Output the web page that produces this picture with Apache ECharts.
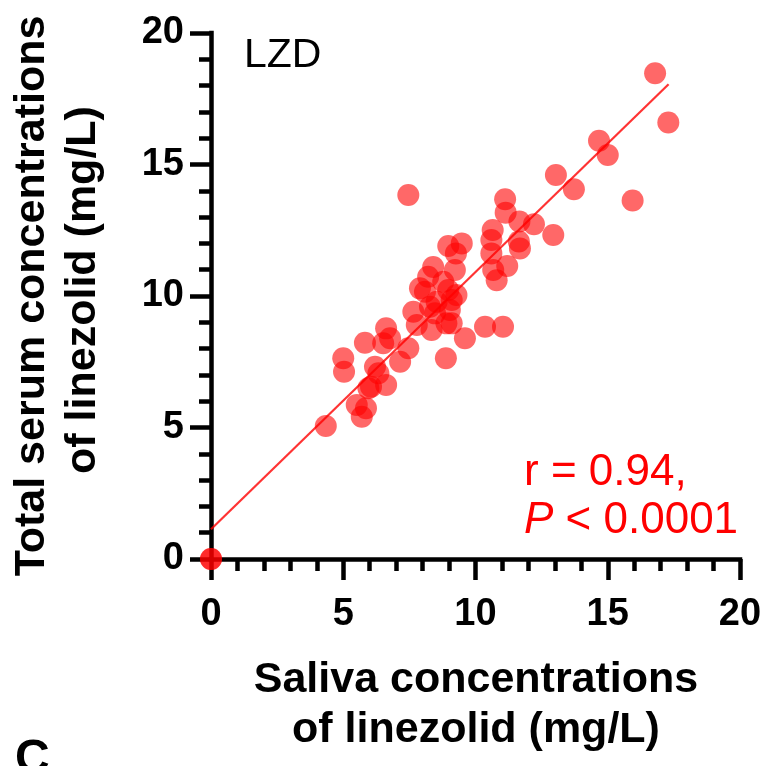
<!DOCTYPE html>
<html>
<head>
<meta charset="utf-8">
<script src="https://cdn.jsdelivr.net/npm/echarts@6/dist/echarts.min.js"></script>
<style>
html,body{margin:0;padding:0;background:#fff;}
#chart{width:769px;height:766px;}
</style>
</head>
<body>
<div id="chart"></div>
<script>
// Saliva concentrations (x) and total serum concentrations (y) of linezolid, mg/L
const saliva = [0,0,4.34,5.0,5.03,5.51,5.7,5.86,5.82,5.95,6.05,6.2,6.33,6.62,6.51,6.62,6.77,7.15,7.46,7.46,7.65,7.78,7.9,8.09,8.21,8.4,8.28,8.47,8.53,8.34,8.78,8.88,8.9,8.97,8.97,9.03,9.1,9.1,9.22,9.26,9.28,9.48,9.6,10.36,10.6,10.6,10.65,10.67,10.8,11.04,11.12,11.14,11.2,11.64,11.66,11.68,12.21,12.94,13.04,13.72,14.67,15.0,15.94,16.79,17.29];
const serum  = [0,0,5.06,7.63,7.12,5.86,5.41,5.73,8.22,6.49,6.55,7.31,7.06,6.62,8.2,8.77,8.39,7.5,8.01,13.84,9.4,8.9,10.29,10.16,10.73,11.1,9.59,9.34,9.78,8.71,10.54,7.63,8.96,11.9,10.23,9.47,9.85,8.96,10.99,11.62,10.04,12.0,8.39,8.83,11.62,12.13,12.51,10.99,10.6,8.83,13.68,13.17,11.14,12.07,12.83,11.81,12.73,12.32,14.6,14.06,15.9,15.36,13.63,18.47,16.6];
// Regression line end points
const fitX = [0, 17.3];
const fitY = [1.13, 18.05];
// Axis ticks
const axisMin = 0, axisMax = 20, axisStep = 5;

const points = saliva.map((x, i) => [x, serum[i]]);
const fitLine = fitX.map((x, i) => [x, fitY[i]]);

const FONT = '"Liberation Sans", Arial, sans-serif';
const chart = echarts.init(document.getElementById('chart'));

const axisCommon = {
  type: 'value', min: axisMin, max: axisMax, interval: axisStep,
  splitLine: {show: false},
  axisLine: {show: true, onZero: false, lineStyle: {color: '#000', width: 4.5, cap: 'square'}},
  axisTick: {show: true, length: 21, lineStyle: {color: '#000', width: 4.5}},
  minorTick: {show: true, splitNumber: 5, length: 12, lineStyle: {color: '#000', width: 4.5}},
  axisLabel: {color: '#000', fontFamily: FONT, fontWeight: 'bold', fontSize: 38}
};

chart.setOption({
  animation: false,
  backgroundColor: '#fff',
  grid: {left: 211, right: 29, top: 33, bottom: 207, containLabel: false},
  xAxis: Object.assign({}, axisCommon, {axisLabel: Object.assign({}, axisCommon.axisLabel, {margin: 37})}),
  yAxis: Object.assign({}, axisCommon, {axisLabel: Object.assign({}, axisCommon.axisLabel, {margin: 27})}),
  series: [
    {
      type: 'line', data: fitLine, symbol: 'none', z: 3,
      lineStyle: {color: 'rgba(255,0,0,0.8)', width: 2.2}
    },
    {
      type: 'scatter', data: points, symbol: 'circle', symbolSize: 22, z: 4,
      itemStyle: {color: 'rgba(255,0,0,0.74)'}
    }
  ],
  graphic: [
    {type: 'text', left: 244, top: 35, style: {text: 'LZD', font: '41px ' + FONT, fill: '#000'}},
    {type: 'text', left: 524, top: 451, style: {
      text: '{n|r = 0.94,}\n{i|P}{n| < 0.0001}',
      fill: '#ff0000',
      rich: {
        n: {fontFamily: FONT, fontSize: 44, fill: '#ff0000', lineHeight: 48},
        i: {fontFamily: FONT, fontSize: 44, fontStyle: 'italic', fill: '#ff0000', lineHeight: 48}
      }
    }},
    {type: 'text', x: 476, y: 680, style: {text: 'Saliva concentrations', font: 'bold 43px ' + FONT, fill: '#000', textAlign: 'center', textVerticalAlign: 'middle'}},
    {type: 'text', x: 476, y: 730, style: {text: 'of linezolid (mg/L)', font: 'bold 43px ' + FONT, fill: '#000', textAlign: 'center', textVerticalAlign: 'middle'}},
    {type: 'text', x: 32, y: 296, rotation: Math.PI / 2, style: {text: 'Total serum concentrations', font: 'bold 43px ' + FONT, fill: '#000', textAlign: 'center', textVerticalAlign: 'middle'}},
    {type: 'text', x: 83, y: 290, rotation: Math.PI / 2, style: {text: 'of linezolid (mg/L)', font: 'bold 43px ' + FONT, fill: '#000', textAlign: 'center', textVerticalAlign: 'middle'}},
    {type: 'text', left: 15, top: 736, style: {text: 'C', font: 'bold 48px ' + FONT, fill: '#000'}}
  ]
});
</script>
</body>
</html>
